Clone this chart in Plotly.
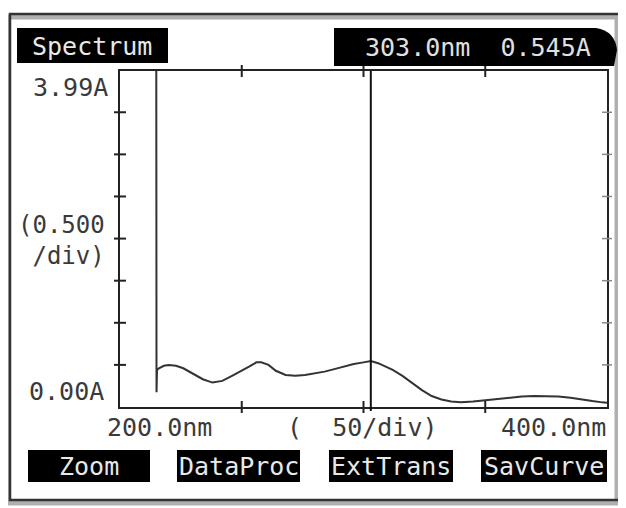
import plotly.graph_objects as go

# ---- data ----
wavelength_nm = [214.9, 215.0, 215.2, 216, 218, 220, 223, 226, 230, 234, 238, 242, 246, 250, 253,
                 256, 258, 261, 264, 268, 272, 276, 280, 284, 288, 292, 296, 300, 303, 306, 309,
                 312, 316, 320, 324, 328, 332, 336, 340, 345, 350, 355, 360, 365, 370, 375, 380,
                 385, 390, 394, 398, 400]
absorbance_A = [3.99, 0.175, 0.44, 0.46, 0.49, 0.50, 0.49, 0.46, 0.40, 0.33, 0.29, 0.31, 0.37, 0.43, 0.48,
                0.53, 0.53, 0.50, 0.43, 0.38, 0.37, 0.38, 0.40, 0.42, 0.45, 0.48, 0.51, 0.53, 0.545, 0.52, 0.48,
                0.44, 0.37, 0.28, 0.20, 0.13, 0.09, 0.065, 0.055, 0.065, 0.08, 0.095, 0.11, 0.125, 0.13, 0.13, 0.125,
                0.11, 0.085, 0.07, 0.055, 0.05]
y_ticks = [0.5, 1.0, 1.5, 2.0, 2.5, 3.0, 3.5]
x_ticks = [250, 300, 350]
cursor_nm = 303.0
cursor_A = 0.545
x_range = [200, 400]
y_range = [0, 3.99]
header_title = "Spectrum"
cursor_text = f"{cursor_nm:.1f}nm  {cursor_A:.3f}A"
y_top_label = "3.99A"
y_bottom_label = "0.00A"
y_scale_label = "(0.500<br> /div)"
x_left_label = "200.0nm"
x_mid_label = "(  50/div)"
x_right_label = "400.0nm"
buttons = ["Zoom", "DataProc", "ExtTrans", "SavCurve"]

# ---- layout geometry (page pixels; page body has an 8px margin) ----
PAGE_W, PAGE_H = 626, 508
OFF = 8
W, H = PAGE_W - OFF, PAGE_H - OFF
L, R, T, B = 120, 607, 71, 407


def px(x):
    return (x - L) / (R - L)


def py(y):
    return (B - y) / (B - T)


FONT = "DejaVu Sans Mono"
INK = "#222222"

fig = go.Figure()
fig.add_trace(go.Scatter(x=wavelength_nm, y=absorbance_A, mode="lines",
                         line=dict(color="#333333", width=2), hoverinfo="x+y",
                         showlegend=False))

shapes = []
# page shadow and border
shapes.append(dict(type="rect", xref="paper", yref="paper", x0=px(7), x1=px(617), y0=py(503), y1=py(17),
                   line=dict(color="#b0b0b0", width=5), layer="below"))
shapes.append(dict(type="rect", xref="paper", yref="paper", x0=px(10), x1=px(620), y0=py(500), y1=py(14),
                   line=dict(color="#333333", width=2.5), layer="below"))
# y ticks (crossing both axes)
for v in y_ticks:
    shapes.append(dict(type="line", xref="paper", yref="y", x0=px(114), x1=px(126), y0=v, y1=v,
                       line=dict(color=INK, width=2)))
    shapes.append(dict(type="line", xref="paper", yref="y", x0=px(602), x1=px(612), y0=v, y1=v,
                       line=dict(color="#888888", width=1.5)))
# x ticks top and bottom
for v in x_ticks:
    shapes.append(dict(type="line", xref="x", yref="paper", x0=v, x1=v, y0=py(413), y1=py(401),
                       line=dict(color=INK, width=2)))
    shapes.append(dict(type="line", xref="x", yref="paper", x0=v, x1=v, y0=py(77), y1=py(65),
                       line=dict(color=INK, width=2)))
# cursor line
shapes.append(dict(type="line", xref="x", yref="paper", x0=cursor_nm, x1=cursor_nm, y0=py(411), y1=1,
                   line=dict(color="#111111", width=2)))
# header boxes
shapes.append(dict(type="rect", xref="paper", yref="paper", x0=px(17), x1=px(168), y0=py(63), y1=py(28),
                   fillcolor="#000000", line=dict(width=0)))
path = (f"M{px(334)},{py(28)} L{px(596)},{py(28)} Q{px(615)},{py(31)} {px(617)},{py(50)} "
        f"L{px(614)},{py(66)} L{px(334)},{py(66)} Z")
shapes.append(dict(type="path", xref="paper", yref="paper", path=path,
                   fillcolor="#000000", line=dict(width=0)))
# button boxes
button_x = [(28, 150), (177, 300), (329, 453), (481, 607)]
for (a, b) in button_x:
    shapes.append(dict(type="rect", xref="paper", yref="paper", x0=px(a), x1=px(b), y0=py(482), y1=py(450),
                       fillcolor="#000000", line=dict(width=0)))

annotations = []


def label(text, x, y, color="#3a3a3a", size=25, xanchor="center"):
    annotations.append(dict(text=text, xref="paper", yref="paper", x=px(x), y=py(y), showarrow=False,
                            xanchor=xanchor, yanchor="middle",
                            font=dict(family=FONT, size=size, color=color)))


label(header_title, 92, 46, color="#e8e8e8")
label(cursor_text, 478, 47, color="#e0e0e0")
label(y_top_label, 110, 87, xanchor="right")
label(y_scale_label, 61, 240, size=24)
label(y_bottom_label, 106, 391, xanchor="right")
label(x_left_label, 159, 427)
label(x_mid_label, 362, 427)
label(x_right_label, 553, 427)
for (a, b), name in zip(button_x, buttons):
    label(name, (a + b) / 2, 466, color="#e8e8e8")

fig.update_layout(
    width=W, height=H,
    margin=dict(l=L - OFF, r=PAGE_W - R, t=T - OFF, b=PAGE_H - B),
    paper_bgcolor="#ffffff", plot_bgcolor="#ffffff",
    xaxis=dict(range=x_range, showline=True, mirror=True, linecolor=INK, linewidth=2,
               showgrid=False, zeroline=False, showticklabels=False, ticks=""),
    yaxis=dict(range=y_range, showline=True, mirror=True, linecolor=INK, linewidth=2,
               showgrid=False, zeroline=False, showticklabels=False, ticks=""),
    shapes=shapes, annotations=annotations, showlegend=False,
)

fig.write_html("out.html")
